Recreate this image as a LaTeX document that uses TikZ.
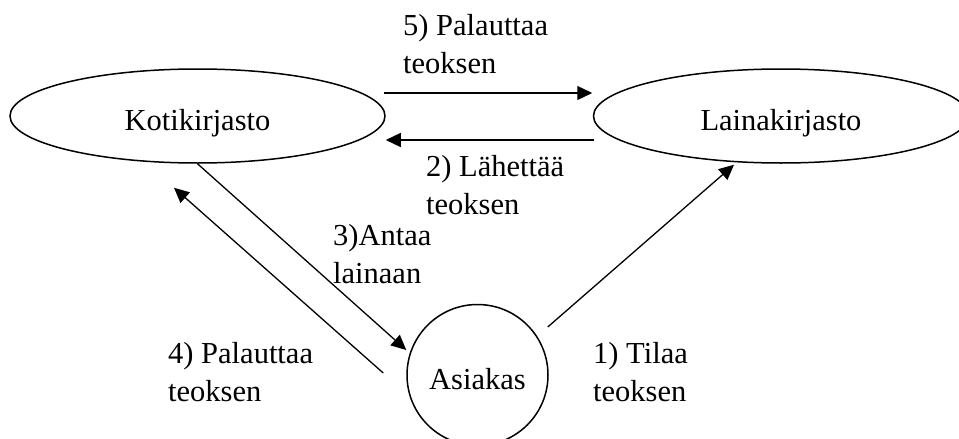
\documentclass[tikz,border=0pt]{standalone}
\usepackage{fontspec}
\setmainfont{Liberation Serif}
\usetikzlibrary{shapes.geometric,arrows.meta,calc}
\tikzset{
  place/.style={draw, line width=1.5pt, ellipse, inner sep=0pt, minimum width=375pt, minimum height=94pt, text height=34.6pt, text depth=6.6pt},
  person/.style={draw, line width=1.5pt, circle, inner sep=0pt, minimum size=141pt, text height=34.6pt, text depth=6.6pt},
  lbl/.style={anchor=base west, inner sep=0pt, align=left},
  flow/.style={line width=1.3pt, -{Triangle[length=15pt,width=14pt]}}
}
\begin{document}
\begin{tikzpicture}[x=1pt, y=-1pt, font=\fontsize{30.5}{37.5}\selectfont]
\useasboundingbox (0,0) rectangle (959,439);
\node[place] (koti) at (197.5,116) {Kotikirjasto};
\node[place] (laina) at (781,116) {Lainakirjasto};
\node[person] (asiakas) at (477.5,375) {Asiakas};

\node[lbl] (l5) at (403,73) {5) Palauttaa\\teoksen};
\node[lbl] (l2) at (426,214) {2) Lähettää\\teoksen};
\node[lbl] (l3) at (333,283) {3)Antaa\\lainaan};
\node[lbl] (l4) at (168,401) {4) Palauttaa\\teoksen};
\node[lbl] (l1) at (593,401) {1) Tilaa\\teoksen};

\draw[flow] ($(koti.east)+(-2,-23)$) -- ($(laina.west)+(-0.5,-23)$);
\draw[flow] ($(laina.west)+(1.5,24)$) -- ($(koti.east)+(0,24)$);
\draw[flow] (koti.south) -- ($(asiakas.west)+(0,-25)$);
\draw[flow] ($(asiakas.west)+(-23,-2)$) -- ($(koti.south)+(-23.5,24)$);
\draw[flow] ($(asiakas.east)+(-1,-48)$) -- ($(laina.south)+(-47,1)$);
\end{tikzpicture}
\end{document}
